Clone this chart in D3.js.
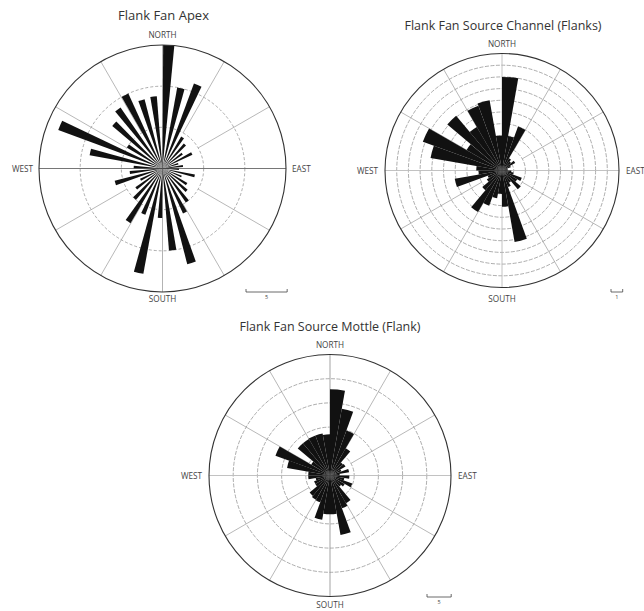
<!DOCTYPE html>
<html>
<head>
<meta charset="utf-8">
<script src="https://cdn.jsdelivr.net/npm/d3@7"></script>
<style>
  html, body { margin: 0; padding: 0; background: #fff; }
  svg { display: block; }
  text { font-family: "Open Sans", "Noto Sans", sans-serif; }
</style>
</head>
<body>
<svg id="fig" width="644" height="611"></svg>
<script>
// Bin start bearings (degrees clockwise from north), 10 degree bins
const bins = [0, 10, 20, 30, 40, 50, 60, 70, 80, 90, 100, 110, 120, 130, 140, 150, 160, 170,
              180, 190, 200, 210, 220, 230, 240, 250, 260, 270, 280, 290, 300, 310, 320, 330, 340, 350];

// Counts per bin for each site
const apexCounts = [15, 10, 11, 4.5, 4, 3, 4, 2, 2.5, 2, 4, 2.5, 3.5, 4, 5, 6, 12, 10,
                    6, 13, 6, 7.7, 5, 4, 3, 6, 4, 3.5, 9, 13.5, 5, 8, 9, 10, 8.7, 8.8];
const channelCounts = [8, 3, 4, 1.2, 1, 1.3, 0.8, 0.5, 0.5, 0.8, 1, 1.8, 1.5, 2.1, 1.2, 1.5, 6.2, 3.1,
                       2, 2.4, 3.2, 4.1, 2.2, 1.5, 1.3, 4.1, 2, 2.2, 6.2, 7.2, 3.5, 6.1, 4.3, 5.9, 6.1, 3];
const mottleCounts = [17.8, 14, 9.9, 6.5, 3.5, 3.7, 2.5, 4, 2, 4, 3, 4.9, 3.5, 3, 6.6, 7.2, 12.5, 8,
                      8, 9.3, 5.9, 5.8, 5.5, 3.5, 3.5, 3, 4.5, 4.5, 9, 12, 4.5, 8.7, 8.7, 8.8, 8.8, 8.5];

const titles = ["Flank Fan Apex", "Flank Fan Source Channel (Flanks)", "Flank Fan Source Mottle (Flank)"];
const compass = ["NORTH", "EAST", "SOUTH", "WEST"];
const ringSteps = [5, 1, 5];      // value between grid rings
const ringCounts = [3, 10, 5];    // number of grid rings
const scaleLabels = ["5", "1", "5"];

const svg = d3.select("#fig");

function rose(cfg) {
  const g = svg.append("g").attr("transform", `translate(${cfg.cx},${cfg.cy})`);
  const maxV = cfg.step * cfg.rings;
  const r = d3.scaleLinear().domain([0, maxV]).range([0, cfg.R]);
  const rad = d => d * Math.PI / 180;

  // dashed rings
  const ringVals = d3.range(1, cfg.rings).map(i => i * cfg.step);
  g.selectAll("circle.ring").data(ringVals).join("circle")
    .attr("class", "ring")
    .attr("r", d => r(d))
    .attr("fill", "none")
    .attr("stroke", "#8a8a8a")
    .attr("stroke-width", 0.7)
    .attr("stroke-dasharray", cfg.dash);

  // radial spokes every 30 degrees (off the cardinal axes)
  const spokes = [30, 60, 120, 150, 210, 240, 300, 330];
  g.selectAll("line.spoke").data(spokes).join("line")
    .attr("class", "spoke")
    .attr("x1", d => r(cfg.spokeStart) * Math.sin(rad(d)))
    .attr("y1", d => -r(cfg.spokeStart) * Math.cos(rad(d)))
    .attr("x2", d => r(maxV) * Math.sin(rad(d)))
    .attr("y2", d => -r(maxV) * Math.cos(rad(d)))
    .attr("stroke", "#9a9a9a")
    .attr("stroke-width", 0.7);

  // cardinal axes
  g.append("line").attr("x1", 0).attr("x2", 0).attr("y1", -r(maxV)).attr("y2", r(maxV))
    .attr("stroke", cfg.nsColor).attr("stroke-width", 0.9);
  g.append("line").attr("y1", 0).attr("y2", 0).attr("x1", -r(maxV) - cfg.ewExtra).attr("x2", r(maxV) + cfg.ewExtra)
    .attr("stroke", cfg.ewColor).attr("stroke-width", 0.9);

  // petals
  const arc = d3.arc().innerRadius(0);
  g.selectAll("path.petal").data(bins.map((b, i) => ({ b, v: cfg.values[i] }))).join("path")
    .attr("class", "petal")
    .attr("d", d => arc({
      outerRadius: r(d.v),
      startAngle: rad(d.b + cfg.petalOffset),
      endAngle: rad(d.b + cfg.petalOffset + cfg.petalWidth)
    }))
    .attr("fill", "#111");

  // outer circle
  g.append("circle").attr("r", r(maxV)).attr("fill", "none")
    .attr("stroke", "#333").attr("stroke-width", 1.1);

  // title
  svg.append("text").attr("x", cfg.cx + cfg.titleDx).attr("y", cfg.titleY)
    .attr("text-anchor", "middle").attr("font-size", cfg.titleSize).attr("fill", "#333")
    .text(cfg.title);

  // compass labels
  const lab = (txt, x, y, anchor) => svg.append("text").attr("x", x).attr("y", y)
    .attr("text-anchor", anchor).attr("font-size", 8.2).attr("fill", "#444").text(txt);
  lab(compass[0], cfg.cx, cfg.cy - r(maxV) - 7, "middle");
  lab(compass[1], cfg.cx + r(maxV) + cfg.ewGap, cfg.cy + 3, "start");
  lab(compass[2], cfg.cx, cfg.cy + r(maxV) + cfg.southGap, "middle");
  lab(compass[3], cfg.cx - r(maxV) - cfg.ewGap, cfg.cy + 3, "end");

  // scale bar
  const len = r(cfg.step);
  const sb = svg.append("g").attr("transform", `translate(${cfg.sbx},${cfg.sby})`);
  sb.append("path").attr("d", `M0,-3V0H${len}V-3`).attr("fill", "none")
    .attr("stroke", "#444").attr("stroke-width", 0.8);
  sb.append("text").attr("x", len / 2).attr("y", 7).attr("text-anchor", "middle")
    .attr("font-size", 5.5).attr("fill", "#444").text(cfg.scaleLabel);
}

rose({ cx: 162.5, cy: 168.5, R: 123.5, step: ringSteps[0], rings: ringCounts[0], values: apexCounts,
       dash: "3,2", spokeStart: 5, nsColor: "#aaa", ewColor: "#666", ewExtra: 0,
       petalOffset: 0.3, petalWidth: 5.2, title: titles[0], titleDx: 1, titleY: 20, titleSize: 13,
       ewGap: 6, southGap: 10, sbx: 246, sby: 292, scaleLabel: scaleLabels[0] });

rose({ cx: 502, cy: 170.5, R: 117, step: ringSteps[1], rings: ringCounts[1], values: channelCounts,
       dash: "4,1.5", spokeStart: 2, nsColor: "#bbb", ewColor: "#bbb", ewExtra: 0,
       petalOffset: 0, petalWidth: 10, title: titles[1], titleDx: 1, titleY: 30, titleSize: 12.5,
       ewGap: 7, southGap: 14, sbx: 611, sby: 292, scaleLabel: scaleLabels[1] });

rose({ cx: 330, cy: 475.5, R: 121, step: ringSteps[2], rings: ringCounts[2], values: mottleCounts,
       dash: "4,1.5", spokeStart: 5, nsColor: "#999", ewColor: "#bbb", ewExtra: 0,
       petalOffset: 0, petalWidth: 10, title: titles[2], titleDx: 0, titleY: 331, titleSize: 12.5,
       ewGap: 7, southGap: 11, sbx: 427, sby: 597, scaleLabel: scaleLabels[2] });
</script>
</body>
</html>
